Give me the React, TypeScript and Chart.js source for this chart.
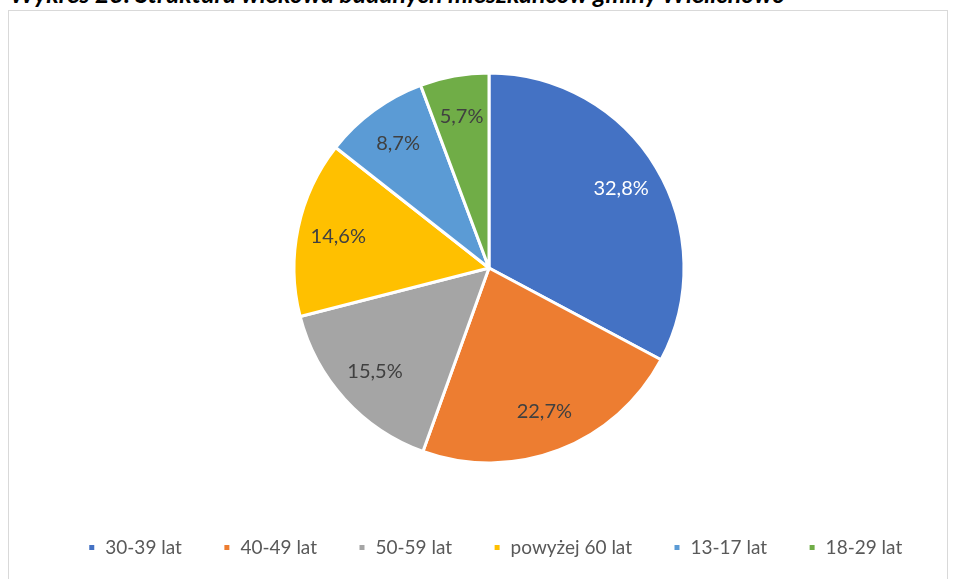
import React, { useEffect, useRef } from "react";
import { Chart, registerables } from "chart.js";

Chart.register(...registerables);

const TITLE = "Wykres 23. Struktura wiekowa badanych mieszkańców gminy Wielichowo";
const categories = ["30-39 lat", "40-49 lat", "50-59 lat", "powyżej 60 lat", "13-17 lat", "18-29 lat"];
const values = [32.8, 22.7, 15.5, 14.6, 8.7, 5.7];
const colors = ["#4472C4", "#ED7D31", "#A5A5A5", "#FFC000", "#5B9BD5", "#70AD47"];
const labelColors = ["#FFFFFF", "#404040", "#404040", "#404040", "#404040", "#404040"];

const FONT = "Lato, Carlito, Calibri, 'Open Sans', sans-serif";

const dataLabelPlugin = {
  id: "sliceLabels",
  afterDatasetsDraw(chart: any) {
    const ctx = chart.ctx;
    const meta = chart.getDatasetMeta(0);
    ctx.save();
    ctx.font = `20px ${FONT}`;
    ctx.textAlign = "center";
    ctx.textBaseline = "middle";
    meta.data.forEach((arc: any, i: number) => {
      const { x, y, startAngle, endAngle, outerRadius } = arc.getProps(
        ["x", "y", "startAngle", "endAngle", "outerRadius"],
        true
      );
      const mid = (startAngle + endAngle) / 2;
      const r = outerRadius * 0.79;
      ctx.fillStyle = labelColors[i];
      const txt = values[i].toFixed(1).replace(".", ",") + "%";
      ctx.fillText(txt, x + Math.cos(mid) * r, y + Math.sin(mid) * r);
    });
    ctx.restore();
  },
};

const legendShiftPlugin = {
  id: "legendShift",
  afterLayout(chart: any) {
    if (chart.legend) {
      chart.legend.left += 6;
      chart.legend.right += 6;
    }
  },
};

export default function App() {
  const ref = useRef<HTMLCanvasElement | null>(null);
  useEffect(() => {
    if (!ref.current) return;
    const chart = new Chart(ref.current, {
      type: "pie",
      data: {
        labels: categories,
        datasets: [
          {
            data: values,
            backgroundColor: colors,
            borderColor: "#FFFFFF",
            borderWidth: 3,
            radius: 195,
          },
        ],
      },
      options: {
        animation: false,
        responsive: false,
        devicePixelRatio: 1,
        layout: { padding: { top: 28, bottom: 12, left: 22, right: 0 } },
        plugins: {
          tooltip: { enabled: false },
          legend: {
            position: "bottom",
            labels: {
              boxWidth: 8,
              boxHeight: 8,
              padding: 41,
              color: "#595959",
              font: { family: FONT, size: 19 },
            },
          },
        },
      },
      plugins: [dataLabelPlugin, legendShiftPlugin],
    });
    return () => chart.destroy();
  }, []);

  return (
    <div
      style={{
        position: "fixed",
        left: 0,
        top: 0,
        width: 956,
        height: 579,
        overflow: "hidden",
        background: "#FFFFFF",
      }}
    >
      <div
        style={{
          position: "absolute",
          left: 10,
          top: -22,
          fontFamily: FONT,
          fontWeight: "bold",
          fontStyle: "italic",
          fontSize: 25,
          color: "#000000",
          whiteSpace: "nowrap",
          lineHeight: "30px",
        }}
      >
        {TITLE}
      </div>
      <div
        style={{
          position: "absolute",
          left: 8,
          top: 10,
          width: 940,
          height: 600,
          border: "1px solid #D9D9D9",
          boxSizing: "border-box",
        }}
      >
        <canvas ref={ref} width={938} height={568} style={{ display: "block" }} />
      </div>
    </div>
  );
}
